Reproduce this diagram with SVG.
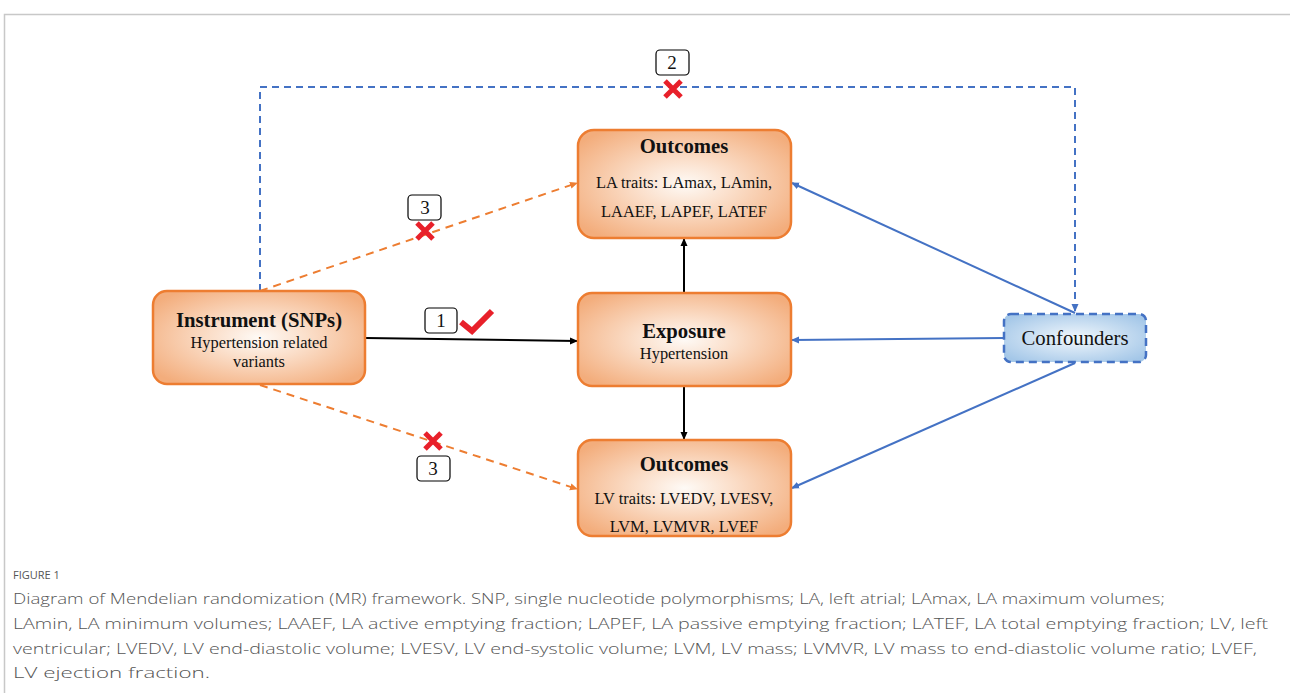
<svg xmlns="http://www.w3.org/2000/svg" width="1290" height="693" viewBox="0 0 1290 693">
<defs>
<radialGradient id="og" cx="50%" cy="50%" r="62%">
<stop offset="0" stop-color="#fefaf6"/>
<stop offset="0.35" stop-color="#fbe0cc"/>
<stop offset="1" stop-color="#f3ad7c"/>
</radialGradient>
<radialGradient id="bg" cx="50%" cy="50%" r="62%">
<stop offset="0" stop-color="#f1f7fc"/>
<stop offset="1" stop-color="#a4c7e8"/>
</radialGradient>
<marker id="ab" markerWidth="8" markerHeight="8" refX="7" refY="4" orient="auto" markerUnits="userSpaceOnUse"><path d="M0,0.5 L8,4 L0,7.5 Z" fill="#000"/></marker>
<marker id="ao" markerWidth="8" markerHeight="8" refX="7" refY="4" orient="auto" markerUnits="userSpaceOnUse"><path d="M0,0.5 L8,4 L0,7.5 Z" fill="#ED7D31"/></marker>
<marker id="au" markerWidth="8" markerHeight="8" refX="7" refY="4" orient="auto" markerUnits="userSpaceOnUse"><path d="M0,0.5 L8,4 L0,7.5 Z" fill="#4472C4"/></marker>
</defs>
<style>
.box{fill:url(#og);stroke:#ED7D31;stroke-width:2.5}
.conf{fill:url(#bg);stroke:#4472C4;stroke-width:2.5;stroke-dasharray:8 5}
.t{font-family:"Liberation Serif","Times New Roman",serif;fill:#111;text-anchor:middle}
.h{font-size:20.7px;font-weight:bold}
.s{font-size:16.4px}
.lb{fill:#fff;stroke:#000;stroke-width:1.2}
.lt{font-family:"Liberation Serif","Times New Roman",serif;font-size:19px;fill:#111;text-anchor:middle}
.x{stroke:#E8202A;stroke-width:5;stroke-linecap:butt;fill:none}
.cap{font-family:"Open Sans","Liberation Sans",sans-serif;fill:#555}
</style>
<rect width="1290" height="693" fill="#fff"/>
<path d="M4.5,693 V14.5 H1290" fill="none" stroke="#c8c8c8" stroke-width="1.5"/>

<g id="connectors" fill="none">
<path d="M260,291 V87 H1075 V311" stroke="#4472C4" stroke-width="2" stroke-dasharray="7 5" marker-end="url(#au)"/>
<path d="M260,291 L577,183" stroke="#ED7D31" stroke-width="2" stroke-dasharray="8 6" marker-end="url(#ao)"/>
<path d="M260,385 L577,489" stroke="#ED7D31" stroke-width="2" stroke-dasharray="8 6" marker-end="url(#ao)"/>
<path d="M366,338 L577,341" stroke="#000" stroke-width="2" marker-end="url(#ab)"/>
<path d="M684,293 V239" stroke="#000" stroke-width="2" marker-end="url(#ab)"/>
<path d="M684,386 V439" stroke="#000" stroke-width="2" marker-end="url(#ab)"/>
<path d="M1075,313 L792,183" stroke="#4472C4" stroke-width="2" marker-end="url(#au)"/>
<path d="M1004,338 L792,340" stroke="#4472C4" stroke-width="2" marker-end="url(#au)"/>
<path d="M1075,363 L792,488" stroke="#4472C4" stroke-width="2" marker-end="url(#au)"/>
</g>

<g id="instrument">
<rect class="box" x="153" y="291" width="212" height="93" rx="14"/>
<text class="t h" x="259" y="327">Instrument (SNPs)</text>
<text class="t s" x="259" y="348">Hypertension related</text>
<text class="t s" x="259" y="367">variants</text>
</g>
<g id="outcome-la">
<rect class="box" x="578" y="130" width="213" height="108" rx="16"/>
<text class="t h" x="684" y="153">Outcomes</text>
<text class="t s" x="684" y="188">LA traits: LAmax, LAmin,</text>
<text class="t s" x="684" y="217">LAAEF, LAPEF, LATEF</text>
</g>
<g id="exposure">
<rect class="box" x="578" y="293" width="213" height="93" rx="14"/>
<text class="t h" x="684" y="338">Exposure</text>
<text class="t s" x="684" y="359">Hypertension</text>
</g>
<g id="outcome-lv">
<rect class="box" x="578" y="440" width="213" height="96" rx="14"/>
<text class="t h" x="684" y="471">Outcomes</text>
<text class="t s" x="684" y="504">LV traits: LVEDV, LVESV,</text>
<text class="t s" x="684" y="532">LVM, LVMVR, LVEF</text>
</g>
<g id="confounders">
<rect class="conf" x="1004" y="314" width="142" height="48" rx="7"/>
<text class="t" style="font-size:20.7px" x="1075" y="345">Confounders</text>
</g>

<g id="label-1">
<rect class="lb" x="425" y="308" width="32" height="25" rx="4"/>
<text class="lt" x="441" y="327">1</text>
<path d="M461,322 L472,331 L492,311" fill="none" stroke="#E8202A" stroke-width="6"/>
</g>
<g id="label-2">
<rect class="lb" x="656" y="50" width="33" height="25" rx="4"/>
<text class="lt" x="672" y="69">2</text>
<path class="x" d="M665,81 L681,97 M681,81 L665,97"/>
</g>
<g id="label-3a">
<rect class="lb" x="408" y="195" width="33" height="25" rx="4"/>
<text class="lt" x="425" y="214">3</text>
<path class="x" d="M417,223 L433,239 M433,223 L417,239"/>
</g>
<g id="label-3b">
<rect class="lb" x="417" y="456" width="33" height="25" rx="4"/>
<text class="lt" x="433" y="475">3</text>
<path class="x" d="M425,433 L441,449 M441,433 L425,449"/>
</g>

<g id="caption">
<text class="cap" x="13" y="579" style="font-size:11px">FIGURE 1</text>
<text class="cap" x="13" y="604" style="font-size:15px;font-weight:300" textLength="1152" lengthAdjust="spacingAndGlyphs">Diagram of Mendelian randomization (MR) framework. SNP, single nucleotide polymorphisms; LA, left atrial; LAmax, LA maximum volumes;</text>
<text class="cap" x="13" y="629" style="font-size:15px;font-weight:300" textLength="1255" lengthAdjust="spacingAndGlyphs">LAmin, LA minimum volumes; LAAEF, LA active emptying fraction; LAPEF, LA passive emptying fraction; LATEF, LA total emptying fraction; LV, left</text>
<text class="cap" x="13" y="654" style="font-size:15px;font-weight:300" textLength="1244" lengthAdjust="spacingAndGlyphs">ventricular; LVEDV, LV end-diastolic volume; LVESV, LV end-systolic volume; LVM, LV mass; LVMVR, LV mass to end-diastolic volume ratio; LVEF,</text>
<text class="cap" x="13" y="678" style="font-size:15px;font-weight:300" textLength="197" lengthAdjust="spacingAndGlyphs">LV ejection fraction.</text>
</g>
</svg>
